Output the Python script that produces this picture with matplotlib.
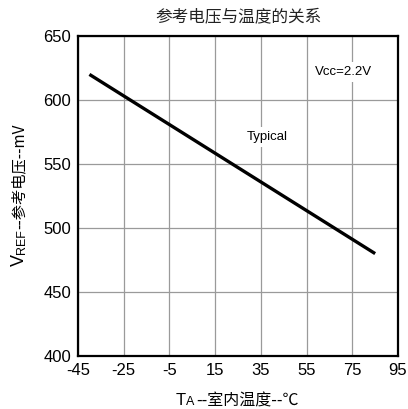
import matplotlib
matplotlib.use("Agg")
import matplotlib.pyplot as plt

# data
temps = [-40, 85]
vref = [620, 480]
xticks = [-45, -25, -5, 15, 35, 55, 75, 95]
yticks = [400, 450, 500, 550, 600, 650]

title = "参考电压与温度的关系"
note_vcc = "Vcc=2.2V"
note_typ = "Typical"

cjk = ["Noto Sans CJK SC", "DejaVu Sans"]
lat = ["Liberation Sans", "DejaVu Sans"]
plt.rcParams["font.family"] = lat
plt.rcParams["axes.unicode_minus"] = False

fig = plt.figure(figsize=(4.08, 4.09), dpi=100)
ax = fig.add_axes([78 / 408, 53 / 409, 320 / 408, 320 / 409])

ax.plot(temps, vref, color="black", linewidth=2.4, solid_capstyle="butt")

ax.set_xlim(-45, 95)
ax.set_ylim(400, 650)
ax.set_xticks(xticks)
ax.set_yticks(yticks)
ax.tick_params(length=0, labelsize=12, pad=5)
ax.grid(True, color="#9a9a9a", linewidth=0.9)
for s in ax.spines.values():
    s.set_linewidth(1.6)
    s.set_color("black")

ax.text(71, 622, note_vcc, fontsize=9.5, ha="center", va="center",
        bbox=dict(facecolor="white", edgecolor="none", pad=3))
ax.text(38, 571, note_typ, fontsize=9.5, ha="center", va="center",
        bbox=dict(facecolor="white", edgecolor="none", pad=3))

fig.text(238 / 408, 1 - 17 / 409, title, family=cjk, fontsize=12,
         ha="center", va="center", color="#222222")

# build labels with subscripts from pieces
fig.canvas.draw()
r = fig.canvas.get_renderer()

# x label: T_A --室内温度--℃
x0, yb = 176, 405
t = fig.text(x0 / 408, 1 - yb / 409, "T", fontsize=12, ha="left", va="baseline")
w = t.get_window_extent(r).width
t2 = fig.text((x0 + w) / 408, 1 - yb / 409, "A", fontsize=9, ha="left", va="baseline")
w2 = t2.get_window_extent(r).width
fig.text((x0 + w + w2 + 2) / 408, 1 - yb / 409, "--室内温度--℃", family=cjk, fontsize=11.5,
         ha="left", va="baseline")

# y label: V_REF--参考电压--mV, rotated
xb, y0 = 24, 266
t = fig.text(xb / 408, 1 - y0 / 409, "V", fontsize=13, rotation=90, rotation_mode="anchor",
             ha="left", va="baseline")
h = t.get_window_extent(r).height
t2 = fig.text((xb + 1) / 408, 1 - (y0 - h) / 409, "REF", fontsize=9, rotation=90,
              rotation_mode="anchor", ha="left", va="baseline")
h2 = t2.get_window_extent(r).height
fig.text(xb / 408, 1 - (y0 - h - h2) / 409, "--参考电压--mV", family=cjk, fontsize=11,
         rotation=90, rotation_mode="anchor", ha="left", va="baseline")

fig.savefig("out.png", dpi=100)
